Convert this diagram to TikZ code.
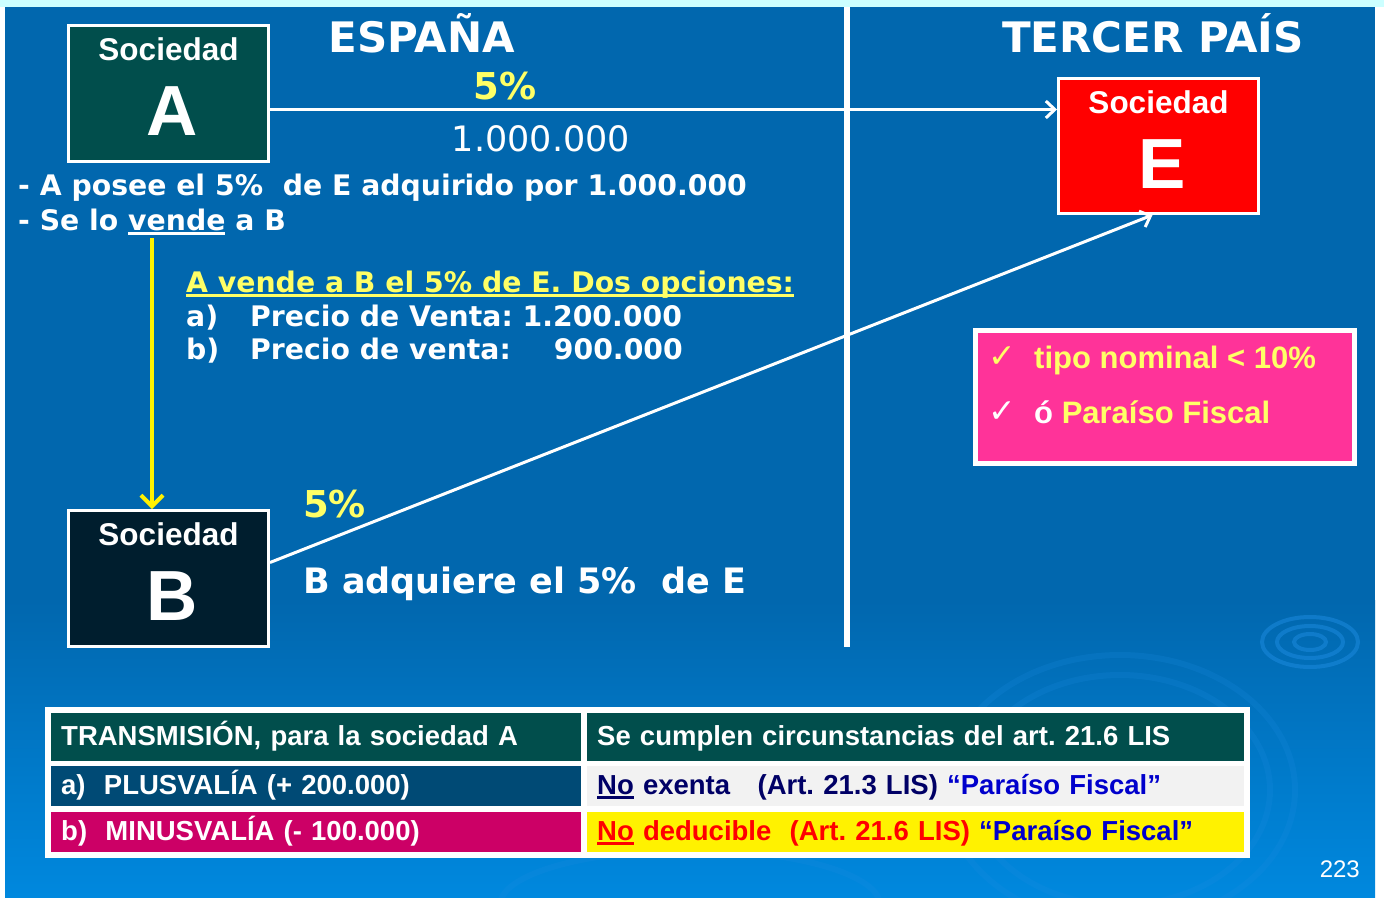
\documentclass[tikz,border=0pt]{standalone}
\usepackage{fontspec}
\usetikzlibrary{positioning,arrows.meta}

\newfontfamily\verdf{DejaVu Sans}
\newfontfamily\arialf{Liberation Sans}
\newsavebox{\subrbox}
\newcommand{\subr}[1]{\sbox{\subrbox}{#1}\rlap{\rule[-4.5pt]{\wd\subrbox}{2.5pt}}\usebox{\subrbox}}
\frenchspacing

\definecolor{fondo}{RGB}{1,103,174}
\definecolor{fondoclaro}{RGB}{0,136,222}
\definecolor{franja}{RGB}{204,255,255}
\definecolor{onda}{RGB}{30,140,225}
\definecolor{verdeosc}{RGB}{1,78,76}
\definecolor{azulosc}{RGB}{0,30,46}
\definecolor{amarillo}{RGB}{255,255,102}
\definecolor{rosa}{RGB}{255,51,153}
\definecolor{azulcelda}{RGB}{0,74,117}
\definecolor{grisclaro}{RGB}{242,242,242}
\definecolor{fucsia}{RGB}{204,0,102}
\definecolor{marino}{RGB}{0,0,102}
\definecolor{azulpf}{RGB}{0,0,204}

\tikzset{
  >={Straight Barb[length=9pt,width=17pt,line width=3pt]},
  socbox/.style={draw=white, line width=3pt, minimum width=200pt, minimum height=136pt, inner sep=0pt},
  soclbl/.style={text=white, anchor=base, inner sep=0pt, font=\arialf\bfseries\fontsize{31.5}{36}\selectfont},
  letra/.style={text=white, anchor=base, inner sep=0pt, font=\arialf\bfseries\fontsize{71}{80}\selectfont},
  titulo/.style={text=white, anchor=base, inner sep=0pt, font=\verdf\bfseries\fontsize{42}{50}\selectfont},
  txt/.style={text=white, anchor=base west, inner sep=0pt, font=\verdf\bfseries\fontsize{28.3}{34}\selectfont},
  pct/.style={text=amarillo, inner sep=0pt, font=\verdf\bfseries\fontsize{37}{44}\selectfont},
  conn/.style={white, line width=3pt},
  celda/.style={anchor=north west, inner xsep=10pt, inner ysep=0pt, align=left, text height=21pt, text depth=5pt, font=\arialf\bfseries\fontsize{27.5}{32}\selectfont},
  fiscal/.style={text=amarillo, anchor=base west, inner sep=0pt, font=\arialf\bfseries\fontsize{31}{36}\selectfont},
  check/.style={anchor=base west, inner sep=0pt, font=\verdf\fontsize{33}{38}\selectfont}
}

\begin{document}
\begin{tikzpicture}[x=1pt,y=-1pt]
    \useasboundingbox (0,0) rectangle (1384,897);
    % fondo de la diapositiva
    \fill[white] (0,0) rectangle (1384,897);
    \fill[franja] (0,0) rectangle (1384,7);
    \fill[fondo] (5,7) rectangle (1375,600);
    \shade[top color=fondo, bottom color=fondoclaro] (5,600) rectangle (1375,897);
    \begin{scope}
        \clip (5,7) rectangle (1375,897);
        \foreach \rx/\ry in {48/25,33/16,16/8}
            \draw[onda, line width=4pt, opacity=0.5] (1310,642) ellipse ({\rx pt} and {\ry pt});
        \foreach \rx/\ry in {175/135,150/115}
            \draw[onda, line width=6pt, opacity=0.2] (1120,790) ellipse ({\rx pt} and {\ry pt});
        \draw[onda, line width=6pt, opacity=0.2] (690,905) ellipse (190pt and 55pt);
    \end{scope}
    \draw[white, line width=6pt] (847,7) -- (847,647);

    % sociedades
    \node[socbox, fill=verdeosc] (A) at (168.5,93.5) {};
    \node[soclbl] (socA) at ([yshift=-36.5pt]A.north) {Sociedad};
    \node[letra] (letA) at ([xshift=4pt,yshift=-75pt]socA.base) {A};
    \node[socbox, fill=azulosc] (B) at (168.5,578.5) {};
    \node[soclbl] (socB) at ([yshift=-36.5pt]B.north) {Sociedad};
    \node[letra] (letB) at ([xshift=4pt,yshift=-75pt]socB.base) {B};
    \node[socbox, fill=red, minimum height=135pt] (E) at (1158.5,146) {};
    \node[soclbl] (socE) at ([yshift=-36.5pt]E.north) {Sociedad};
    \node[letra] (letE) at ([xshift=4pt,yshift=-75pt]socE.base) {E};

    \node[titulo] (espana) at (422,52) {ESPAÑA};
    \node[titulo] (tercer) at (1153,52) {TERCER PAÍS};

    % participaciones
    \draw[conn,->] ([yshift=-16pt]A.east) coordinate (a1) -- (a1 -| E.west);
    \draw[conn,->] ([yshift=16pt]B.east) -- ([xshift=-6pt]E.south);
    \coordinate (v0) at (152,238);
    \draw[yellow, line width=4pt, -{Straight Barb[length=11pt,width=22pt,line width=4pt]}] (v0) -- (v0 |- B.north);

    \node[pct, anchor=base] (pctAE) at (505,99) {5\%};
    \node[text=white, anchor=base, inner sep=0pt, font=\verdf\fontsize{35}{40}\selectfont] (coste) at (541,151) {1.000.000};
    \node[txt] (posee) at (18,195) {- A posee el 5\%\ \ de E adquirido por 1.000.000};
    \node[txt] (selo) at (18,230) {- Se lo \subr{vende} a B};
    \node[txt, text=amarillo] (opciones) at (186,292) {\subr{A vende a B el 5\% de E. Dos opciones:}};
    \node[txt] (opa) at (186,326) {a)};
    \node[txt] (opaP) at (250,326) {Precio de Venta: 1.200.000};
    \node[txt] (opb) at (186,359) {b)};
    \node[txt] (opbP) at (250,359) {Precio de venta:};
    \node[txt, anchor=base east] (opbV) at (683,359) {900.000};
    \node[pct, anchor=base west] (pctBE) at (303,517) {5\%};
    \node[txt, font=\verdf\bfseries\fontsize{35}{40}\selectfont] (adquiere) at (303,593) {B adquiere el 5\%\ \ de E};

    % requisitos paraiso fiscal
    \node[draw=white, line width=5pt, fill=rosa, minimum width=379pt, minimum height=133pt] (req) at (1165,397) {};
    \node[check, text=amarillo] (chk1) at (988,367) {✓};
    \node[fiscal] (tipo) at (1034,368) {tipo nominal < 10\%};
    \node[check, text=white] (chk2) at (988,422) {✓};
    \node[fiscal] (paraiso) at (1034,423) {{\color{white}ó} Paraíso Fiscal};

    % tabla
    \fill[white] (45,707) rectangle (1250,858);
    \node[celda, fill=verdeosc, text=white, text width=510pt, minimum height=48pt] (t11) at (51,713) {TRANSMISIÓN, para la sociedad A};
    \node[celda, fill=verdeosc, text=white, text width=637pt, minimum height=48pt] (t12) at (587,713) {Se cumplen circunstancias del art. 21.6 LIS};
    \node[celda, fill=azulcelda, text=white, text width=510pt, minimum height=40pt] (t21) at (51,766) {a)\ \ PLUSVALÍA (+ 200.000)};
    \node[celda, fill=grisclaro, text=marino, text width=637pt, minimum height=40pt] (t22) at (587,766) {\subr{No} exenta\ \ \ (Art. 21.3 LIS) {\color{azulpf}“Paraíso Fiscal”}};
    \node[celda, fill=fucsia, text=white, text width=510pt, minimum height=40pt] (t31) at (51,812) {b)\ \ MINUSVALÍA (- 100.000)};
    \node[celda, fill=yellow, text=red, text width=637pt, minimum height=40pt] (t32) at (587,812) {\subr{No} deducible\ \ (Art. 21.6 LIS) {\color{azulpf}“Paraíso Fiscal”}};

    \node[text=white, anchor=base east, inner sep=0pt, font=\arialf\fontsize{24}{28}\selectfont] (pag) at (1360,877) {223};
\end{tikzpicture}
\end{document}
